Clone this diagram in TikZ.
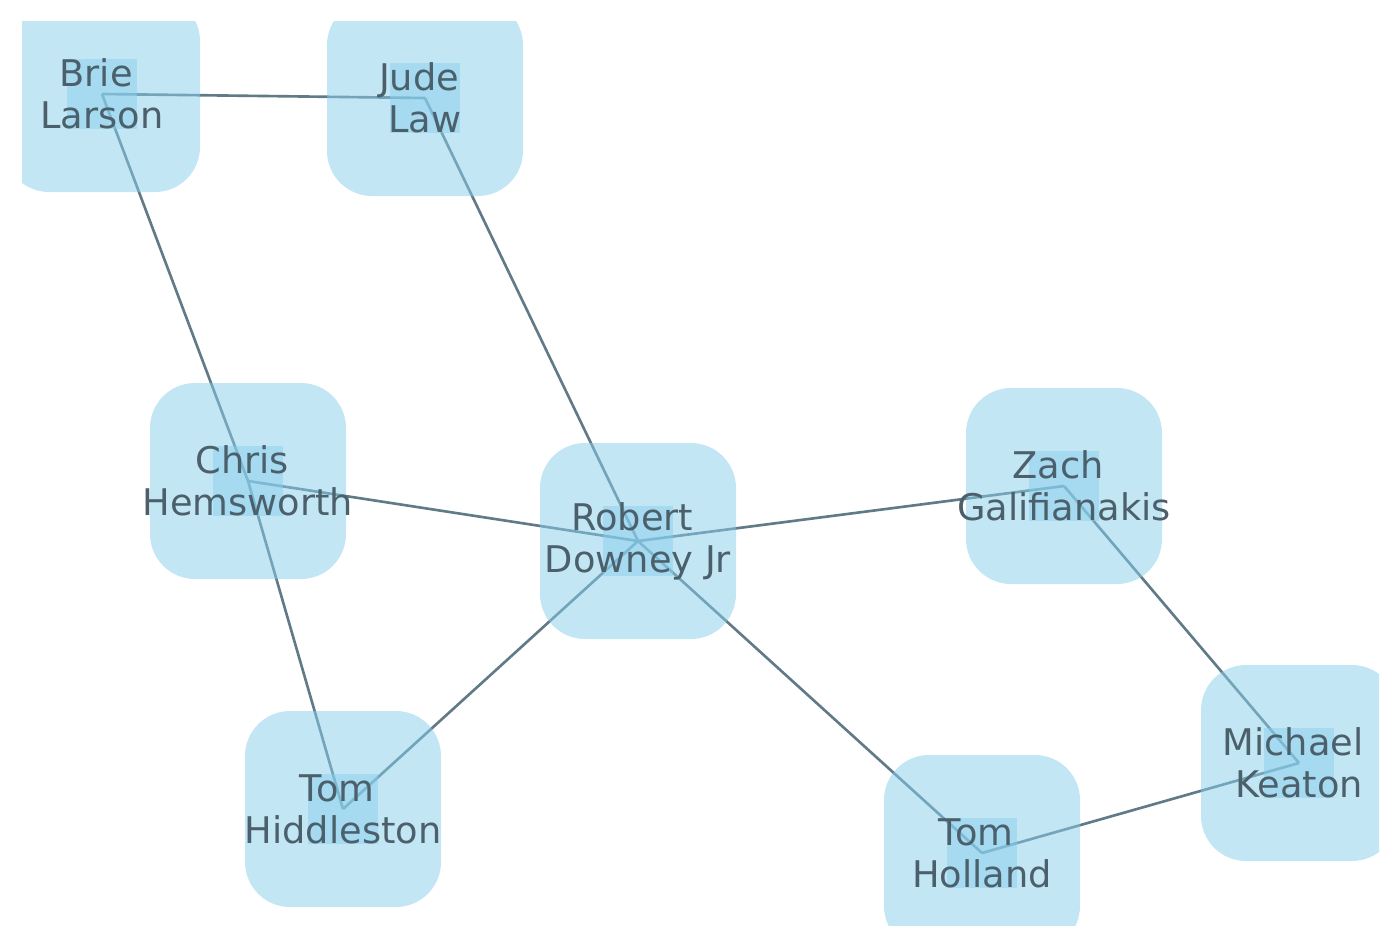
\documentclass[tikz,border=0pt]{standalone}
\usepackage{fontspec}
\setmainfont{DejaVu Sans}
\usetikzlibrary{positioning}
\definecolor{actorblue}{RGB}{135,206,235}
\definecolor{linkgrey}{RGB}{97,122,135}
\definecolor{namegrey}{RGB}{76,96,108}
\pgfdeclarelayer{links}
\pgfdeclarelayer{cores}
\pgfsetlayers{links,cores,main}

\begin{document}
\begin{tikzpicture}[x=0.01cm,y=-0.01cm,
  actor/.style={text=namegrey,align=center,inner sep=0pt,
    font=\fontsize{10.45}{11.95}\selectfont},
  card/.style={fill=actorblue,fill opacity=0.5,rounded corners=0.45cm},
  core/.style={fill=actorblue,fill opacity=0.5},
  link/.style={draw=linkgrey,line width=0.75pt}]
\useasboundingbox (0,0) rectangle (1400,948);

\node[actor] (brie) at (102,94) {\mbox{Brie\ }\\Larson};
\node[actor] (jude) at (425,98) {\mbox{Jude\ }\\Law};
\node[actor] (chris) at (248,481) {\mbox{Chris\ }\\Hemsworth};
\node[actor] (rdj) at (638,541) {\mbox{Robert\ }\\Downey Jr};
\node[actor] (zach) at (1064,486) {\mbox{Zach\ }\\Galifianakis};
\node[actor] (hiddleston) at (343,809) {\mbox{Tom\ }\\Hiddleston};
\node[actor] (holland) at (982,853) {\mbox{Tom\ }\\Holland};
\node[actor] (keaton) at (1299,763) {\mbox{Michael\ }\\Keaton};

% cards and inner squares
\begin{pgfonlayer}{cores}
\clip (22,21) rectangle (1379,925);
\foreach \n in {brie,jude,chris,rdj,zach,hiddleston,holland,keaton}{
  \fill[card] ([shift={(-98,-98)}]\n.center) rectangle ([shift={(98,98)}]\n.center);
  \fill[core] ([shift={(-35,-35)}]\n.center) rectangle ([shift={(35,35)}]\n.center);
}
\end{pgfonlayer}

% links
\begin{pgfonlayer}{links}
\draw[link] (brie.center) -- (jude.center);
\draw[link] (brie.center) -- (chris.center);
\draw[link] (chris.center) -- (rdj.center);
\draw[link] (chris.center) -- (hiddleston.center);
\draw[link] (jude.center) -- (rdj.center);
\draw[link] (rdj.center) -- (zach.center);
\draw[link] (rdj.center) -- (hiddleston.center);
\draw[link] (rdj.center) -- (holland.center);
\draw[link] (zach.center) -- (keaton.center);
\draw[link] (keaton.center) -- (holland.center);
\end{pgfonlayer}

\end{tikzpicture}
\end{document}
